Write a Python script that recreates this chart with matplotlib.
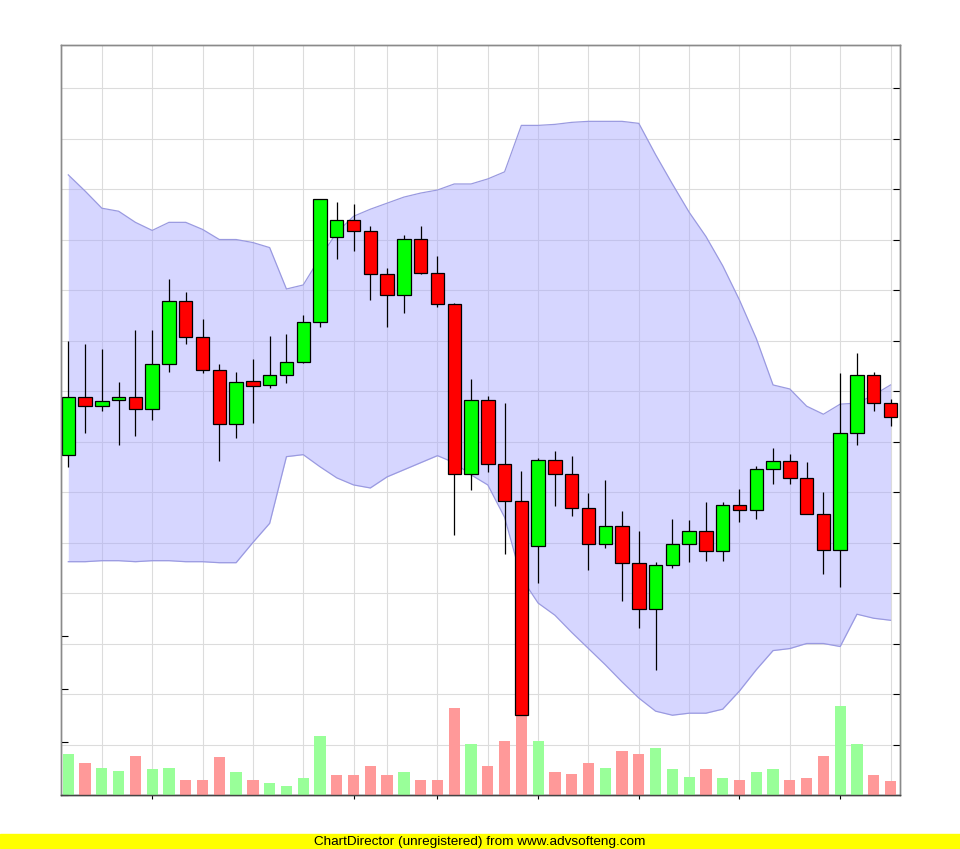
import numpy as np
import matplotlib
matplotlib.use("Agg")
import matplotlib.pyplot as plt
from matplotlib.patches import Rectangle

# Daily prices (open / high / low / close), 50 trading days
open_ = [73.7, 79.4, 78.5, 79.1, 79.4, 78.2, 82.7, 88.9, 85.3, 82.1,
         76.7, 81.0, 80.6, 81.6, 82.9, 86.8, 95.2, 96.9, 95.8, 91.6,
         89.5, 95.1, 91.7, 88.6, 71.8, 79.1, 72.8, 69.1, 64.7, 73.2,
         71.8, 68.4, 64.9, 66.6, 63.0, 58.4, 62.8, 64.9, 66.1, 64.2,
         68.7, 68.2, 72.3, 73.1, 71.4, 67.8, 64.3, 75.8, 81.6, 78.8]
high = [85.0, 84.7, 84.2, 80.9, 86.0, 86.0, 91.1, 89.8, 87.1, 82.7,
        81.9, 83.2, 85.4, 85.6, 87.5, 99.0, 98.7, 98.5, 96.3, 92.2,
        95.4, 96.3, 93.4, 88.7, 81.2, 79.5, 78.8, 72.1, 73.4, 74.1,
        73.6, 69.9, 71.2, 68.1, 66.1, 63.1, 67.3, 67.2, 69.0, 69.0,
        70.3, 72.6, 74.4, 73.8, 73.0, 70.0, 81.8, 83.8, 81.9, 79.2]
low = [72.5, 75.8, 78.0, 74.7, 75.5, 77.1, 81.9, 84.7, 81.8, 73.1,
       75.3, 76.8, 80.3, 80.8, 82.8, 86.3, 93.1, 93.9, 89.0, 86.3,
       87.7, 91.6, 88.3, 65.7, 70.2, 72.0, 63.9, 47.9, 61.0, 68.6,
       67.6, 62.3, 64.5, 59.2, 56.5, 52.4, 62.5, 63.1, 63.2, 63.2,
       67.0, 67.3, 70.8, 70.8, 67.8, 61.9, 60.6, 74.7, 78.0, 76.5]
close = [79.4, 78.5, 79.0, 79.4, 78.2, 82.7, 88.9, 85.3, 82.1, 76.7,
         80.9, 80.5, 81.6, 82.9, 86.8, 99.0, 96.9, 95.8, 91.6, 89.5,
         95.1, 91.7, 88.6, 71.8, 79.1, 72.8, 69.1, 47.9, 73.2, 71.8,
         68.4, 64.9, 66.6, 63.0, 58.4, 62.8, 64.9, 66.1, 64.2, 68.7,
         68.2, 72.3, 73.1, 71.4, 67.8, 64.3, 75.8, 81.6, 78.8, 77.4]

# Bollinger band
band_upper = [101.4, 99.8, 98.1, 97.8, 96.7, 95.9, 96.7, 96.7, 96.0, 95.0,
              95.0, 94.7, 94.2, 90.1, 90.5, 93.2, 95.7, 97.3, 98.0, 98.6,
              99.2, 99.6, 99.9, 100.5, 100.5, 101.0, 101.7, 106.3, 106.3, 106.4,
              106.6, 106.7, 106.7, 106.7, 106.5, 103.4, 100.5, 97.7, 95.3, 92.4,
              89.0, 85.2, 80.6, 80.2, 78.5, 77.7, 78.7, 78.8, 79.6, 80.6]
band_lower = [63.1, 63.1, 63.2, 63.2, 63.1, 63.2, 63.2, 63.1, 63.1, 63.0,
              63.0, 65.0, 66.9, 73.5, 73.7, 72.5, 71.4, 70.7, 70.4, 71.5,
              72.2, 72.9, 73.6, 72.9, 71.7, 70.7, 67.5, 61.5, 59.0, 57.8,
              56.1, 54.5, 52.9, 51.2, 49.6, 48.3, 47.9, 48.1, 48.1, 48.5,
              50.3, 52.4, 54.3, 54.5, 55.0, 55.0, 54.7, 57.9, 57.5, 57.3]

# Volume (millions)
volume = [15.6, 12.1, 10.2, 9.1, 14.8, 9.9, 10.2, 5.7, 5.7, 14.5,
          8.7, 5.7, 4.5, 3.4, 6.4, 22.3, 7.5, 7.5, 10.9, 7.5,
          8.7, 5.7, 5.7, 32.7, 19.1, 10.9, 20.4, 31.3, 20.4, 8.7,
          7.9, 12.1, 10.2, 16.6, 15.5, 17.6, 9.8, 6.9, 9.8, 6.4,
          5.7, 8.7, 9.8, 5.7, 6.4, 14.8, 33.6, 19.2, 7.7, 5.4]

# vertical grid lines / bottom ticks (day index)
grid_days = [2, 5, 8, 11, 14, 17, 19, 22, 25, 28, 31, 34, 37, 40, 43, 46, 49]
tick_days = [5, 17, 22, 28, 34, 40, 46]
price_ticks = list(range(45, 111, 5))
volume_ticks = [0, 20, 40, 60]

x = np.arange(len(close))
o = np.array(open_)
c = np.array(close)

fig = plt.figure(figsize=(9.6, 8.49), dpi=100)
ax = fig.add_axes([61 / 960, 54 / 849, 839 / 960, 750 / 849])
ax2 = ax.twinx()

# grid
ax.set_axisbelow(True)
ax.set_yticks(price_ticks)
ax.set_xticks(tick_days)
ax.set_xticks(grid_days, minor=True)
ax.grid(True, which='both', color='#dcdcdc', linewidth=0.8, zorder=0)

# band
ax.fill_between(x, band_lower, band_upper, color='#a6a6ff', alpha=0.45,
                linewidth=0, zorder=1)
ax.plot(x, band_upper, color='#9a9ae0', linewidth=0.9, zorder=2)
ax.plot(x, band_lower, color='#9a9ae0', linewidth=0.9, zorder=2)

# volume bars, coloured by change of close
up_day = np.r_[True, c[1:] >= c[:-1]]
vol_colors = np.where(up_day, '#99ff99', '#ff9999')
ax.bar(x, volume, width=0.67, color=vol_colors, linewidth=0,
       transform=ax2.transData, zorder=3)

# candles
ax.vlines(x, low, high, color='black', linewidth=0.9, zorder=4)
body_colors = np.where(c >= o, '#00ff00', '#ff0000')
ax.bar(x, np.abs(c - o), bottom=np.minimum(o, c), width=0.8,
       color=body_colors, edgecolor='black', linewidth=0.9, zorder=5)

ax.set_xlim(-0.435, 49.565)
ax.set_ylim(40, 114.26)
ax2.set_ylim(0, 283)
ax2.set_yticks(volume_ticks)

# axes / ticks
ax.tick_params(axis='y', left=False, right=True, direction='in', length=5,
               labelleft=False, labelright=False, color='black')
ax.tick_params(axis='x', which='major', direction='out', length=3,
               labelbottom=False, color='black')
ax.tick_params(axis='x', which='minor', length=0)
ax2.yaxis.tick_left()
ax2.tick_params(axis='y', direction='in', length=5, labelleft=False,
                labelright=False, color='black')
for a in (ax, ax2):
    for s in a.spines.values():
        s.set_color('#8a8a8a')
        s.set_linewidth(1.0)
    a.spines['bottom'].set_color('#444444')

# footer banner
fig.add_artist(Rectangle((0, 1 / 849), 1, 14 / 849, transform=fig.transFigure,
                         color='#ffff00', zorder=0))
fig.text(0.5, 7.5 / 849, 'ChartDirector (unregistered) from www.advsofteng.com',
         ha='center', va='center', fontsize=9.7, family='Liberation Sans')

fig.savefig('out.png', dpi=100)
